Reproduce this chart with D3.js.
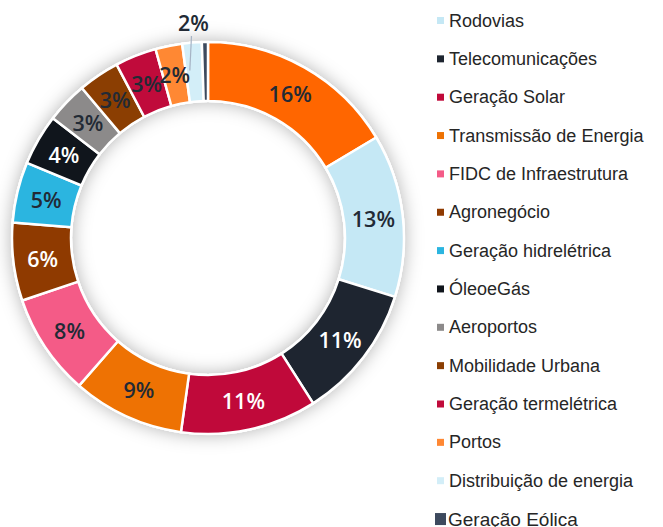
<!DOCTYPE html>
<html>
<head>
<meta charset="utf-8">
<script src="https://cdn.jsdelivr.net/npm/d3@7"></script>
<style>
  body { margin: 0; background: #fff; }
  svg { display: block; }
</style>
</head>
<body>
<svg id="chart"></svg>
<script>
    var width = 663, height = 527;

    // slices clockwise from 12 o'clock (first slice has no visible legend entry)
    var categories = ["", "Rodovias", "Telecomunicações", "Geração Solar", "Transmissão de Energia",
        "FIDC de Infraestrutura", "Agronegócio", "Geração hidrelétrica", "ÓleoeGás", "Aeroportos",
        "Mobilidade Urbana", "Geração termelétrica", "Portos", "Distribuição de energia", "Geração Eólica"];
    var values = [16.4, 13.4, 11.1, 11.2, 9.2, 8.4, 6.4, 5.0, 4.2, 3.4, 3.4, 3.4, 2.2, 1.6, 0.5];
    var colors = ["#FF6600", "#C5E8F5", "#1E2530", "#C0093A", "#EE7203", "#F45B87", "#8F3A00",
        "#2BB5E0", "#10151C", "#8C8A8A", "#8B3E02", "#C00B3B", "#FF8833", "#D3EEF8", "#3D4A5E"];
    var labelColors = ["#222A35", "#222A35", "#fff", "#fff", "#222A35", "#222A35", "#fff",
        "#222A35", "#fff", "#222A35", "#222A35", "#222A35", "#222A35", "#222A35", null];

    var data = categories.map(function(c, i) {
        return { name: c, value: values[i], color: colors[i], labelColor: labelColors[i] };
    });

    var svg = d3.select("#chart")
        .attr("width", width)
        .attr("height", height);

    var defs = svg.append("defs");
    var shadow = defs.append("filter")
        .attr("id", "shadow")
        .attr("x", "-20%").attr("y", "-20%")
        .attr("width", "140%").attr("height", "140%");
    shadow.append("feDropShadow")
        .attr("dx", 0).attr("dy", 0)
        .attr("stdDeviation", 9)
        .attr("flood-color", "#000")
        .attr("flood-opacity", 0.3);

    var cx = 208, cy = 238, outerR = 196, innerR = 137;

    var pie = d3.pie()
        .sort(null)
        .value(function(d) { return d.value; });

    var arc = d3.arc()
        .innerRadius(innerR)
        .outerRadius(outerR);

    var labelArc = d3.arc()
        .innerRadius((innerR + outerR) / 2)
        .outerRadius((innerR + outerR) / 2);

    var total = d3.sum(values);
    var arcs = pie(data);

    var g = svg.append("g")
        .attr("transform", "translate(" + cx + "," + cy + ")");

    // ring with shadow behind it
    g.append("path")
        .attr("d", d3.arc().innerRadius(innerR - 1).outerRadius(outerR + 1)
            .startAngle(0).endAngle(2 * Math.PI)())
        .attr("fill", "#fff")
        .attr("filter", "url(#shadow)");

    g.selectAll("path.slice")
        .data(arcs)
        .enter()
        .append("path")
        .attr("class", "slice")
        .attr("d", arc)
        .attr("fill", function(d) { return d.data.color; })
        .attr("stroke", "#fff")
        .attr("stroke-width", 2.5)
        .attr("stroke-linejoin", "round");

    // labels inside the ring
    g.selectAll("text.pct")
        .data(arcs.filter(function(d) { return d.data.labelColor && d.data.value >= 2; }))
        .enter()
        .append("text")
        .attr("class", "pct")
        .attr("transform", function(d) { return "translate(" + labelArc.centroid(d) + ")"; })
        .attr("text-anchor", "middle")
        .attr("dominant-baseline", "central")
        .style("font-family", "'Open Sans', sans-serif")
        .style("font-size", "21.5px")
        .style("font-weight", 600)
        .style("fill", function(d) { return d.data.labelColor; })
        .text(function(d) { return Math.round(d.data.value / total * 100) + "%"; });

    // small slice with label outside + leader line
    var small = arcs[13];
    var midA = (small.startAngle + small.endAngle) / 2;
    g.append("line")
        .attr("x1", Math.sin(midA) * (outerR + 2) - 2)
        .attr("y1", -Math.cos(midA) * (outerR - 28))
        .attr("x2", Math.sin(midA) * (outerR + 6))
        .attr("y2", -(outerR + 6))
        .attr("stroke", "#A6B3C4")
        .attr("stroke-width", 1.2);
    g.append("text")
        .attr("x", Math.sin(midA) * (outerR + 6) + 2)
        .attr("y", -(outerR + 20))
        .attr("text-anchor", "middle")
        .attr("dominant-baseline", "central")
        .style("font-family", "'Open Sans', sans-serif")
        .style("font-size", "21.5px")
        .style("font-weight", 600)
        .style("fill", "#222A35")
        .text(Math.round(small.data.value / total * 100) + "%");

    // legend
    var legend = svg.append("g")
        .attr("transform", "translate(437, 20.5)");

    var legendItem = legend.selectAll("g")
        .data(data.slice(1))
        .enter().append("g")
        .attr("transform", function(d, i) { return "translate(0," + (i * 38.35) + ")"; });

    legendItem.append("rect")
        .attr("x", function(d, i) { return i === 13 ? -2 : 0; })
        .attr("y", function(d, i) { return i === 13 ? -6 : -3.5; })
        .attr("width", function(d, i) { return i === 13 ? 11 : 7; })
        .attr("height", function(d, i) { return i === 13 ? 12 : 7; })
        .style("fill", function(d) { return d.color; });

    legendItem.append("text")
        .attr("x", function(d, i) { return i === 13 ? 11 : 12; })
        .attr("y", 0)
        .attr("dominant-baseline", "central")
        .style("font-family", "'Liberation Sans', Arial, sans-serif")
        .style("font-size", function(d, i) { return i === 13 ? "19px" : "18px"; })
        .style("fill", "#262626")
        .text(function(d) { return d.name; });
</script>
</body>
</html>
